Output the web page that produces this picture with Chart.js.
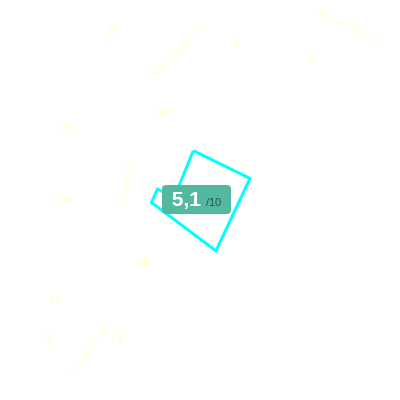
<!DOCTYPE html>
<html><head><meta charset="utf-8">
<style>html,body{margin:0;padding:0;background:#fff;}#wrap{width:400px;height:400px;}</style>
<script src="https://cdn.jsdelivr.net/npm/chart.js@4"></script>
</head><body><div id="wrap"><canvas id="c" width="400" height="400"></canvas></div>
<script>
// Map coordinate space (0..400 both axes, y downward)
const outlineX = [193.3, 250, 216, 151.5, 157.5, 174, 193.3];
const outlineY = [150.7, 178.5, 251, 202.5, 189, 198, 150.7];
const houseNumbers = ['30', '2', '5', '28', '15', '15B', '2B', '2A', '2', '13'];
const houseX = [113, 236, 310, 164, 67, 62, 143, 55, 50, 116];
const houseY = [30, 44, 58, 112, 128, 201, 262, 301, 340, 339];
const streetNames = ['Tormentilstraat', 'Anemoonstraat', 'Rozenhof', 'Lindenstraat'];
const streetX = [347, 177, 127.5, 90];
const streetY = [26, 52, 183, 349];
const streetAngle = [25, -46, -77, -56];
const scoreValue = [5.1];
const scoreMax = [10];
const scoreX = [196.5];
const scoreY = [199.5];

const numberColor = 'rgba(255,255,190,0.85)';
const streetColor = 'rgba(255,255,190,0.6)';

const mapLabels = {
  id: 'mapLabels',
  afterDatasetsDraw(chart) {
    const ctx = chart.ctx, xs = chart.scales.x, ys = chart.scales.y;
    ctx.save();
    ctx.textAlign = 'center'; ctx.textBaseline = 'middle';
    ctx.fillStyle = numberColor;
    ctx.font = '11.5px "Open Sans"';
    houseNumbers.forEach((t, i) => {
      ctx.fillText(t, xs.getPixelForValue(houseX[i]), ys.getPixelForValue(houseY[i]));
    });
    ctx.fillStyle = streetColor;
    ctx.font = '9px "DejaVu Sans"';
    streetNames.forEach((t, i) => {
      ctx.save();
      ctx.translate(xs.getPixelForValue(streetX[i]), ys.getPixelForValue(streetY[i]));
      ctx.rotate(streetAngle[i] * Math.PI / 180);
      ctx.fillText(t, 0, 0);
      ctx.restore();
    });
    // score badge
    const cx = xs.getPixelForValue(scoreX[0]), cy = ys.getPixelForValue(scoreY[0]);
    const w = 69, h = 29, r = 4;
    ctx.fillStyle = '#52b9a0';
    ctx.beginPath();
    ctx.roundRect(cx - w / 2, cy - h / 2, w, h, r);
    ctx.fill();
    const big = scoreValue[0].toFixed(1).replace('.', ',');
    const small = '/' + scoreMax[0];
    ctx.textAlign = 'left';
    ctx.font = 'bold 21px "Liberation Sans"';
    const bw = ctx.measureText(big).width;
    ctx.font = '11px "Liberation Sans"';
    const sw = ctx.measureText(small).width;
    const total = bw + 5 + sw;
    let x0 = cx - total / 2;
    ctx.fillStyle = '#ffffff';
    ctx.font = 'bold 21px "Liberation Sans"';
    ctx.fillText(big, x0, cy + 1);
    ctx.fillStyle = '#2b4f47';
    ctx.font = '11px "Liberation Sans"';
    ctx.fillText(small, x0 + bw + 5, cy + 3);
    ctx.restore();
  }
};

new Chart(document.getElementById('c'), {
  type: 'scatter',
  data: {
    datasets: [{
      data: outlineX.map((x, i) => ({ x, y: outlineY[i] })),
      showLine: true,
      borderColor: '#00ffff',
      borderWidth: 3,
      pointRadius: 0,
      fill: false,
      tension: 0,
      borderJoinStyle: 'miter'
    }]
  },
  options: {
    responsive: false,
    animation: false,
    devicePixelRatio: 1,
    layout: { padding: 0 },
    plugins: { legend: { display: false }, tooltip: { enabled: false } },
    scales: {
      x: { type: 'linear', min: 0, max: 400, display: false },
      y: { type: 'linear', min: 0, max: 400, reverse: true, display: false }
    }
  },
  plugins: [mapLabels]
});
</script></body></html>
